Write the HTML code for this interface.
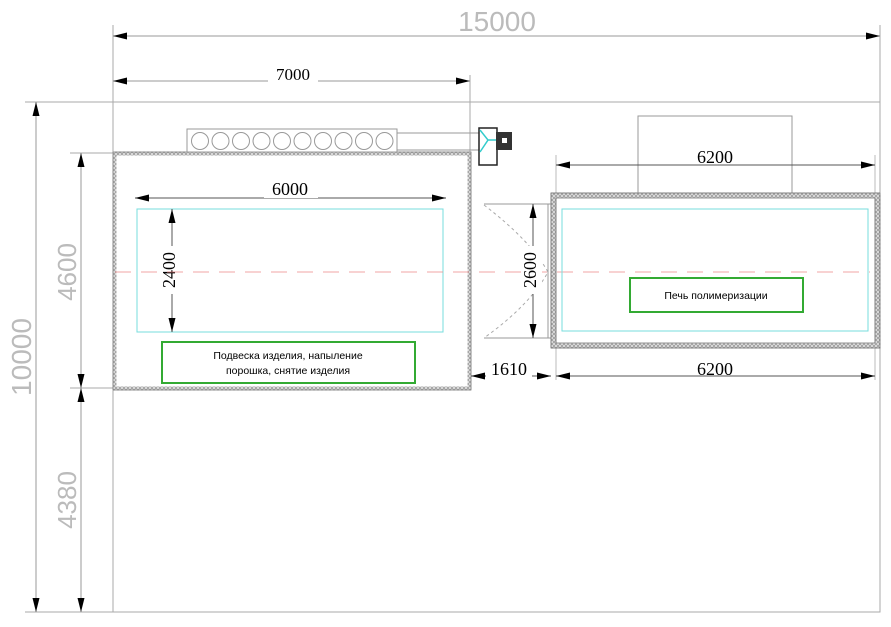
<!DOCTYPE html>
<html><head><meta charset="utf-8"><style>
html,body{margin:0;padding:0;background:#fff;width:891px;height:627px;overflow:hidden}
svg{display:block}
.g{font-family:"Liberation Sans","DejaVu Sans",sans-serif}
.s{font-family:"Liberation Serif",serif}
</style></head><body>
<svg width="891" height="627" viewBox="0 0 891 627" xmlns="http://www.w3.org/2000/svg">
<defs>
<pattern id="h" width="4" height="4" patternUnits="userSpaceOnUse"><rect width="4" height="4" fill="#ddd"/><path d="M0 4L4 0M0 0L4 4" stroke="#888" stroke-width="0.6"/></pattern>
<marker id="a" viewBox="0 0 14 7" refX="14" refY="3.5" markerWidth="14" markerHeight="7" orient="auto" markerUnits="userSpaceOnUse"><path d="M0 0L14 3.5L0 7z" fill="#000"/></marker>
<marker id="b" viewBox="0 0 14 7" refX="0" refY="3.5" markerWidth="14" markerHeight="7" orient="auto" markerUnits="userSpaceOnUse"><path d="M14 0L0 3.5L14 7z" fill="#000"/></marker>
</defs>
<g stroke="#aaa" stroke-width="1" fill="none">
<rect x="113" y="102" width="767" height="510"/>
<line x1="113" y1="25" x2="113" y2="102"/><line x1="880" y1="25" x2="880" y2="102"/>
<line x1="470" y1="75" x2="470" y2="152"/>
<line x1="25" y1="102" x2="113" y2="102"/><line x1="25" y1="612" x2="113" y2="612"/>
<line x1="70" y1="153" x2="113" y2="153"/><line x1="70" y1="388" x2="113" y2="388"/>
</g>
<g stroke="#999" stroke-width="1">
<line x1="113" y1="36" x2="880" y2="36" marker-start="url(#b)" marker-end="url(#a)"/>
<line x1="113" y1="81" x2="470" y2="81" marker-start="url(#b)" marker-end="url(#a)"/>
<line x1="36" y1="102" x2="36" y2="612" marker-start="url(#b)" marker-end="url(#a)"/>
<line x1="81" y1="153" x2="81" y2="388" marker-start="url(#b)" marker-end="url(#a)"/>
<line x1="81" y1="388" x2="81" y2="612" marker-start="url(#b)" marker-end="url(#a)"/>
</g>
<rect x="268" y="70" width="50" height="16" fill="#fff"/>
<text x="293" y="80" class="s" font-size="17" text-anchor="middle">7000</text>
<text x="497" y="31" class="g" font-size="28" fill="#bbb" text-anchor="middle">15000</text>
<text transform="translate(31,357) rotate(-90)" class="g" font-size="28" fill="#bbb" text-anchor="middle">10000</text>
<text transform="translate(76,272) rotate(-90)" class="g" font-size="26" fill="#bbb" text-anchor="middle">4600</text>
<text transform="translate(76,500) rotate(-90)" class="g" font-size="26" fill="#bbb" text-anchor="middle">4380</text>
<rect x="114.5" y="153.5" width="355" height="235" fill="none" stroke="url(#h)" stroke-width="4"/>
<rect x="113" y="152" width="358" height="238" fill="none" stroke="#777" stroke-width="0.7"/>
<rect x="187" y="129" width="210" height="23" fill="#fff" stroke="#999"/>
<g fill="none" stroke="#999">
<circle cx="200" cy="141" r="8.5"/><circle cx="220.5" cy="141" r="8.5"/><circle cx="241" cy="141" r="8.5"/><circle cx="261.5" cy="141" r="8.5"/><circle cx="282" cy="141" r="8.5"/><circle cx="302.5" cy="141" r="8.5"/><circle cx="323" cy="141" r="8.5"/><circle cx="343.5" cy="141" r="8.5"/><circle cx="364" cy="141" r="8.5"/><circle cx="384.5" cy="141" r="8.5"/>
<line x1="397" y1="133" x2="480" y2="133"/><line x1="397" y1="150" x2="480" y2="150"/>
</g>
<rect x="479" y="128" width="18" height="37" fill="#fff" stroke="#222" stroke-width="1.5"/>
<path d="M480 130L488 140L480 152M488 140L496 140" stroke="#3cc" stroke-width="1.5" fill="none"/>
<rect x="496" y="132" width="16" height="18" fill="#333"/><rect x="502" y="138" width="5" height="5" fill="#fff"/>
<line x1="135" y1="198" x2="446" y2="198" stroke="#555" marker-start="url(#b)" marker-end="url(#a)"/>
<rect x="264" y="181" width="54" height="17" fill="#fff"/>
<text x="290" y="195" class="s" font-size="18" text-anchor="middle">6000</text>
<rect x="137" y="209" width="306" height="123" fill="none" stroke="#7dd" stroke-width="1"/>
<line x1="172" y1="209" x2="172" y2="332" stroke="#555" marker-start="url(#b)" marker-end="url(#a)"/>
<rect x="163" y="246" width="18" height="48" fill="#fff"/>
<text transform="translate(171,270) rotate(-90)" class="s" font-size="18" text-anchor="middle" dominant-baseline="middle">2400</text>
<line x1="115" y1="272" x2="870" y2="272" stroke="#e88" stroke-dasharray="16,10" stroke-width="0.8"/>
<rect x="162" y="342" width="253" height="41" fill="#fff" stroke="#3a3" stroke-width="2"/>
<text x="288" y="359" class="g" font-size="10.5" text-anchor="middle">Подвеска изделия, напыление</text>
<text x="288" y="374" class="g" font-size="10.5" text-anchor="middle">порошка, снятие изделия</text>
<path d="M484 205 Q530 240 548 272 Q530 305 484 338" fill="none" stroke="#aaa" stroke-dasharray="3,3"/>
<line x1="484" y1="204" x2="551" y2="204" stroke="#999"/><line x1="484" y1="338" x2="551" y2="338" stroke="#999"/>
<rect x="548" y="204" width="5" height="134" fill="#fff" stroke="#999"/>
<line x1="533" y1="204" x2="533" y2="338" stroke="#555" marker-start="url(#b)" marker-end="url(#a)"/>
<rect x="524" y="246" width="18" height="48" fill="#fff"/>
<text transform="translate(532,270) rotate(-90)" class="s" font-size="18" text-anchor="middle" dominant-baseline="middle">2600</text>
<line x1="471" y1="376" x2="551" y2="376" stroke="#555"/>
<path d="M471 376L485 372.5L485 379.5z M551 376L537 372.5L537 379.5z" fill="#000"/>
<rect x="486" y="360" width="46" height="18" fill="#fff"/>
<text x="509" y="375" class="s" font-size="18" text-anchor="middle">1610</text>
<rect x="638" y="116" width="154" height="77" fill="#fff" stroke="#999"/>
<line x1="556" y1="155" x2="556" y2="380" stroke="#bbb"/><line x1="875" y1="155" x2="875" y2="380" stroke="#bbb"/>
<line x1="556" y1="165" x2="875" y2="165" stroke="#555" marker-start="url(#b)" marker-end="url(#a)"/>
<rect x="690" y="148" width="50" height="16" fill="#fff"/>
<text x="715" y="163" class="s" font-size="18" text-anchor="middle">6200</text>
<rect x="553" y="195" width="325" height="151" fill="none" stroke="url(#h)" stroke-width="5"/>
<rect x="551" y="193" width="329" height="155" fill="none" stroke="#666" stroke-width="0.7"/>
<rect x="556" y="198" width="319" height="145" fill="none" stroke="#666" stroke-width="0.7"/>
<rect x="562" y="209" width="306" height="122" fill="none" stroke="#7dd"/>
<line x1="556" y1="376" x2="875" y2="376" stroke="#555" marker-start="url(#b)" marker-end="url(#a)"/>
<rect x="690" y="359" width="50" height="16" fill="#fff"/>
<text x="715" y="375" class="s" font-size="18" text-anchor="middle">6200</text>
<rect x="630" y="278" width="173" height="34" fill="#fff" stroke="#3a3" stroke-width="2"/>
<text x="716" y="299" class="g" font-size="10.5" text-anchor="middle">Печь полимеризации</text>
</svg>
</body></html>
